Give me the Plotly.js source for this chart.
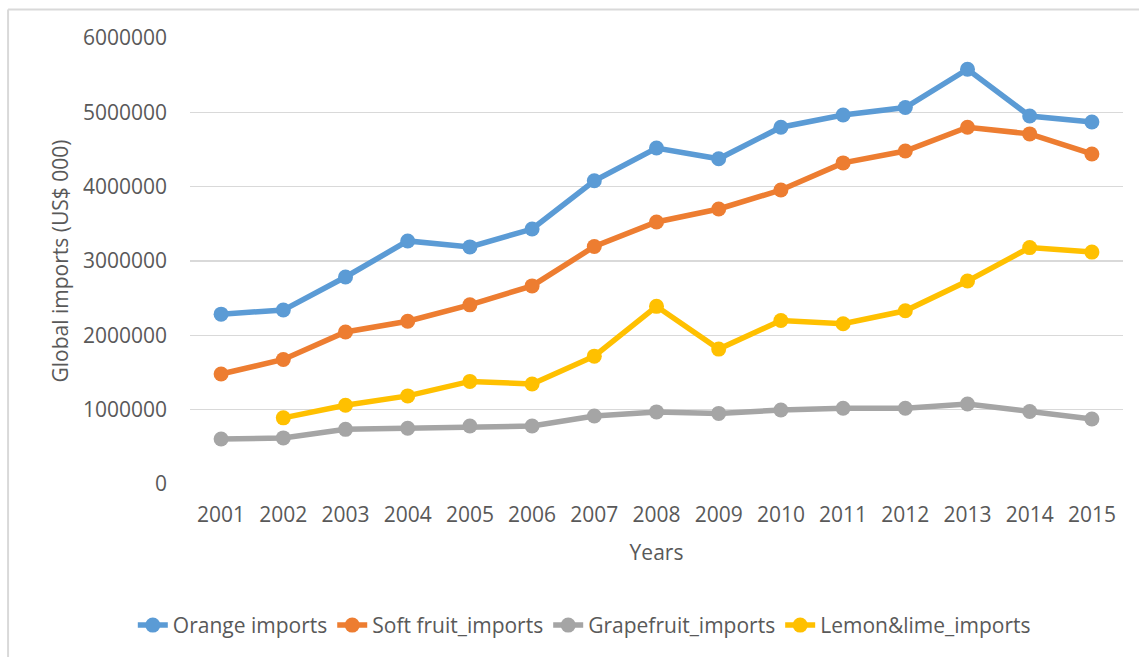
<!DOCTYPE html>
<html>
<head>
<meta charset="utf-8">
<script src="https://cdn.plot.ly/plotly-3.0.1.min.js"></script>
<style>html,body{margin:0;padding:0;background:#fff;}#chart{width:1139px;height:657px;}</style>
</head>
<body>
<div id="chart"></div>
<script>
const years = ["2001","2002","2003","2004","2005","2006","2007","2008","2009","2010","2011","2012","2013","2014","2015"];
const orangeImports = [2285000,2340000,2785000,3270000,3190000,3430000,4080000,4520000,4375000,4800000,4965000,5065000,5580000,4950000,4870000];
const softFruitImports = [1480000,1675000,2045000,2190000,2410000,2665000,3195000,3525000,3700000,3955000,4320000,4480000,4800000,4710000,4440000];
const grapefruitImports = [605000,620000,735000,750000,780000,780000,915000,970000,950000,995000,1020000,1020000,1076000,975000,875000];
const lemonLimeImports = [null,890000,1060000,1185000,1380000,1345000,1720000,2390000,1815000,2200000,2155000,2330000,2730000,3180000,3120000];
const seriesNames = ["Orange imports","Soft fruit_imports","Grapefruit_imports","Lemon&lime_imports"];
const seriesColors = ["#5B9BD5","#ED7D31","#A5A5A5","#FFC000"];
const allSeries = [orangeImports, softFruitImports, grapefruitImports, lemonLimeImports];

const font = "'Open Sans', 'Noto Sans', sans-serif";
const textColor = "#595959";

const traces = allSeries.map((vals, i) => ({
  type: "scatter",
  mode: "lines+markers",
  x: years,
  y: vals,
  name: seriesNames[i],
  line: {color: seriesColors[i], width: 5.5},
  marker: {color: seriesColors[i], size: 15},
  connectgaps: false
}));

const layout = {
  width: 1139, height: 657,
  paper_bgcolor: "#fff", plot_bgcolor: "#fff",
  margin: {l: 190, r: 16, t: 38, b: 173},
  font: {family: font, color: textColor, size: 21},
  showlegend: true,
  legend: {
    orientation: "h", xref: "container", yref: "container",
    x: 0.513, xanchor: "center", y: 0.048, yanchor: "middle",
    font: {family: font, size: 21, color: textColor},
    itemwidth: 30, tracegroupgap: 0, traceorder: "normal"
  },
  xaxis: {
    type: "category", range: [-0.5, 14.5],
    showgrid: false, zeroline: false, showline: false,
    ticks: "", ticklabelstandoff: 16,
    tickfont: {family: font, size: 21, color: textColor},
    title: {text: "Years", font: {family: font, size: 21, color: textColor}, standoff: 18}
  },
  yaxis: {
    range: [0, 6000000], dtick: 1000000, tickformat: "d",
    showgrid: true, gridcolor: "#D9D9D9", gridwidth: 1.5,
    zeroline: false, showline: false, ticks: "", ticklabelstandoff: 22,
    tickfont: {family: font, size: 21, color: textColor},
    title: {text: "Global imports (US$ 000)", font: {family: font, size: 21, color: textColor}, standoff: 8}
  },
  shapes: [
    {type: "line", xref: "paper", yref: "paper", x0: -0.195, x1: 1.1, y0: 1.064, y1: 1.064, line: {color: "#D9D9D9", width: 2}},
    {type: "line", xref: "paper", yref: "paper", x0: -0.195, x1: -0.195, y0: 1.064, y1: -0.4, line: {color: "#D9D9D9", width: 2}}
  ]
};

Plotly.newPlot("chart", traces, layout, {displayModeBar: false, staticPlot: true});
</script>
</body>
</html>
